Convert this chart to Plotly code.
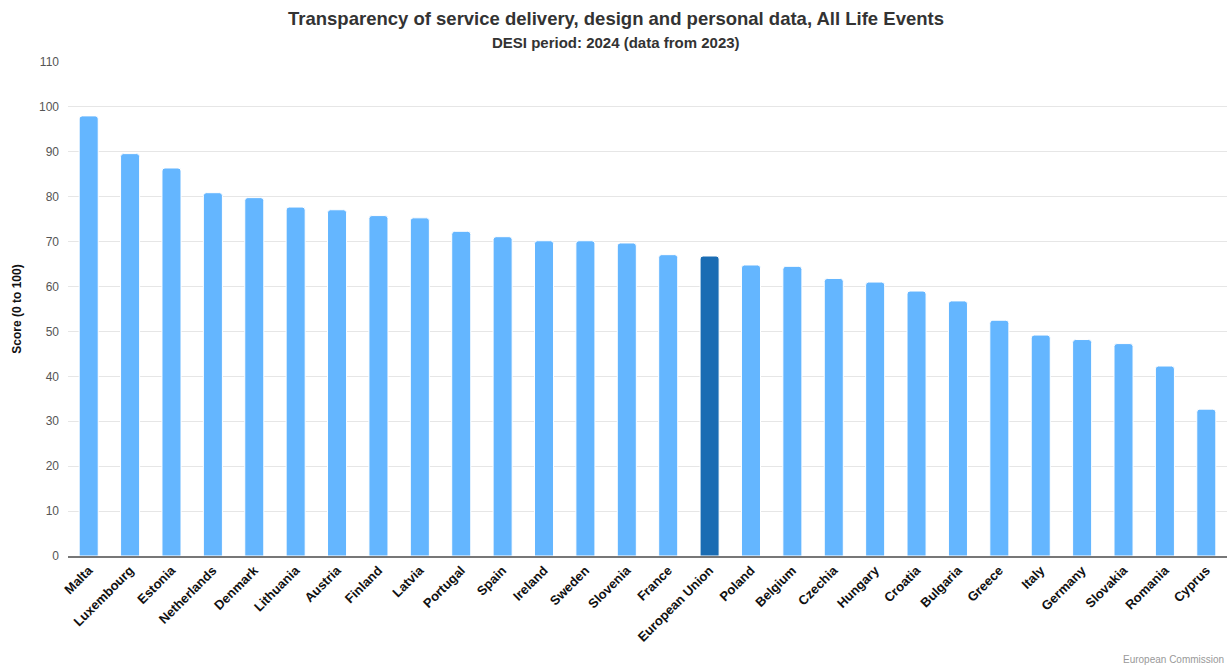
import plotly.graph_objects as go

countries = [
    "Malta", "Luxembourg", "Estonia", "Netherlands", "Denmark", "Lithuania",
    "Austria", "Finland", "Latvia", "Portugal", "Spain", "Ireland", "Sweden",
    "Slovenia", "France", "European Union", "Poland", "Belgium", "Czechia",
    "Hungary", "Croatia", "Bulgaria", "Greece", "Italy", "Germany",
    "Slovakia", "Romania", "Cyprus",
]
scores = [
    98.0, 89.6, 86.4, 80.9, 79.8, 77.7,
    77.1, 75.8, 75.3, 72.3, 71.1, 70.2, 70.2,
    69.7, 67.1, 66.8, 64.8, 64.5, 61.8,
    61.0, 59.0, 56.8, 52.5, 49.2, 48.2,
    47.3, 42.3, 32.7,
]
y_ticks = list(range(0, 111, 10))

COUNTRY_COLOR = "#64b6ff"
EU_COLOR = "#1a6cb3"
colors = [EU_COLOR if c == "European Union" else COUNTRY_COLOR for c in countries]

FONT = "Liberation Sans, Arial, sans-serif"
W, H = 1231, 666
M = dict(l=68, r=4, t=62, b=110)
plot_w = W - M["l"] - M["r"]
plot_h = H - M["t"] - M["b"]


def px_to_paper(px_x=None, px_y=None):
    """Convert figure pixel coordinates to paper coordinates."""
    out = []
    if px_x is not None:
        out.append((px_x - M["l"]) / plot_w)
    if px_y is not None:
        out.append((H - M["b"] - px_y) / plot_h)
    return out[0] if len(out) == 1 else out


center_x = px_to_paper(px_x=W / 2)

fig = go.Figure(
    go.Bar(
        x=countries,
        y=scores,
        marker=dict(color=colors, line=dict(color="white", width=1), cornerradius=3),
        hovertemplate="%{x}: %{y}<extra></extra>",
    )
)

fig.update_layout(
    width=W,
    height=H,
    margin=M,
    paper_bgcolor="white",
    plot_bgcolor="white",
    bargap=0.54,
    showlegend=False,
    font=dict(family=FONT, color="#333333"),
    xaxis=dict(
        tickangle=-45,
        tickfont=dict(family=FONT, size=13, color="#111111", weight="bold"),
        showgrid=False,
        showline=True,
        linecolor="#777777",
        linewidth=1.5,
        ticks="",
        fixedrange=True,
    ),
    yaxis=dict(
        range=[0, 110],
        tickvals=y_ticks,
        tickfont=dict(family=FONT, size=12, color="#555555"),
        gridcolor="#e6e6e6",
        gridwidth=1,
        zeroline=False,
        showline=False,
        ticks="",
        ticklabelstandoff=8,
        title=dict(
            text="<b>Score (0 to 100)</b>",
            font=dict(family=FONT, size=12, color="#111111"),
            standoff=14,
        ),
        fixedrange=True,
    ),
    annotations=[
        dict(
            text="<b>Transparency of service delivery, design and personal data, All Life Events</b>",
            xref="paper", yref="paper",
            x=center_x, y=px_to_paper(px_y=19),
            xanchor="center", yanchor="middle",
            showarrow=False,
            font=dict(family=FONT, size=18.5, color="#333333"),
        ),
        dict(
            text="<b>DESI period: 2024 (data from 2023)</b>",
            xref="paper", yref="paper",
            x=center_x, y=px_to_paper(px_y=43),
            xanchor="center", yanchor="middle",
            showarrow=False,
            font=dict(family=FONT, size=15, color="#333333"),
        ),
        dict(
            text="European Commission",
            xref="paper", yref="paper",
            x=px_to_paper(px_x=1226), y=px_to_paper(px_y=659),
            xanchor="right", yanchor="middle",
            showarrow=False,
            font=dict(family=FONT, size=10, color="#999999"),
        ),
    ],
)

fig.write_html("out.html")
